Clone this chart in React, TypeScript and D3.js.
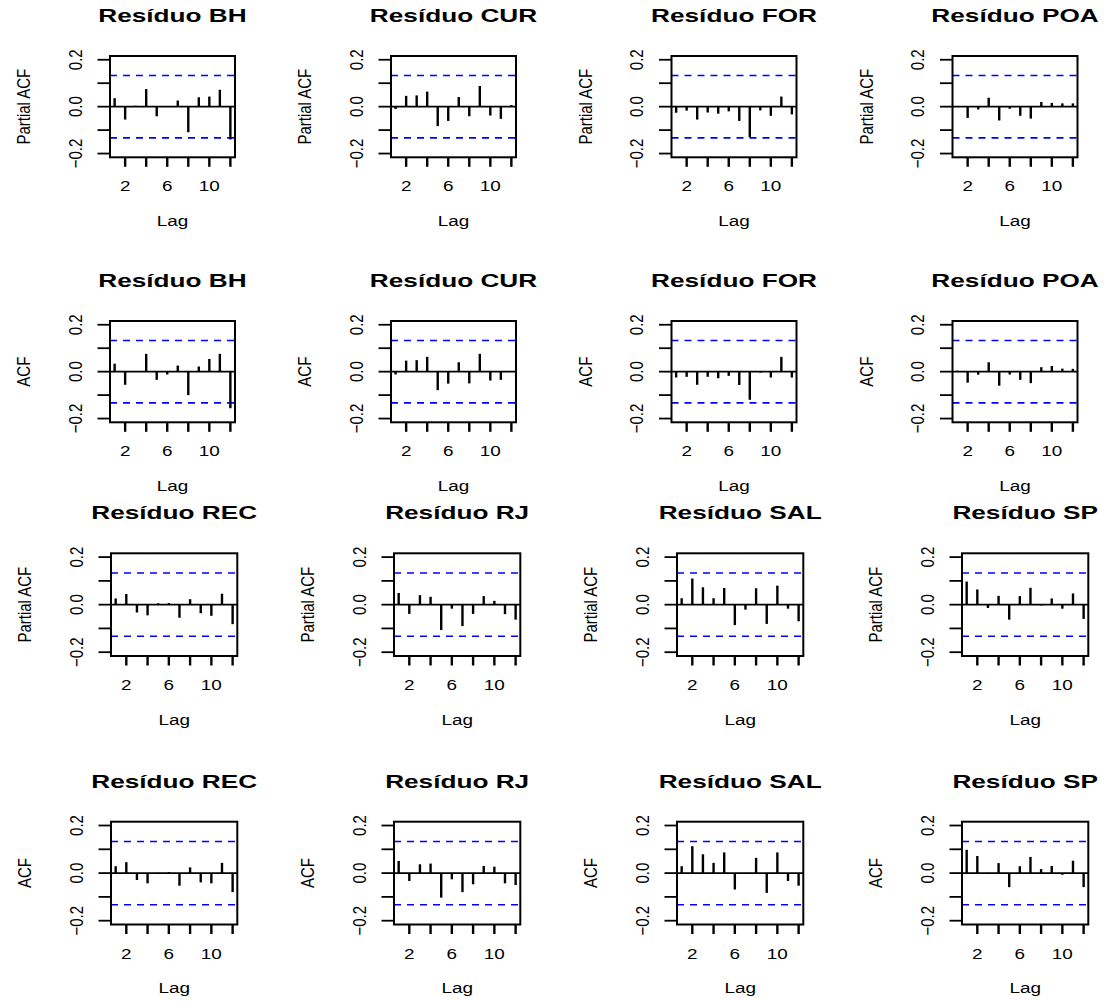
import React from "react";
import * as d3 from "d3";

// lags shown on every correlogram
const lags = [1, 2, 3, 4, 5, 6, 7, 8, 9, 10, 11, 12];

// partial autocorrelations
const pacfBH = [0.036, -0.055, 0.004, 0.075, -0.041, 0.002, 0.026, -0.109, 0.04, 0.043, 0.072, -0.14];
const pacfCUR = [-0.01, 0.046, 0.048, 0.064, -0.083, -0.061, 0.041, -0.041, 0.088, -0.038, -0.052, 0.007];
const pacfFOR = [-0.026, -0.017, -0.055, -0.025, -0.03, -0.02, -0.061, -0.13, -0.016, -0.039, 0.043, -0.033];
const pacfPOA = [0.002, -0.048, -0.012, 0.038, -0.059, -0.009, -0.039, -0.051, 0.02, 0.016, 0.014, 0.014];
const pacfREC = [0.026, 0.045, -0.033, -0.045, 0.006, 0.007, -0.055, 0.023, -0.036, -0.047, 0.046, -0.082];
const pacfRJ = [0.049, -0.039, 0.04, 0.033, -0.107, -0.017, -0.09, -0.039, 0.036, 0.016, -0.04, -0.063];
const pacfSAL = [0.027, 0.11, 0.073, 0.027, 0.07, -0.086, -0.021, 0.069, -0.081, 0.08, -0.017, -0.07];
const pacfSP = [0.097, 0.064, -0.014, 0.037, -0.063, 0.036, 0.071, -0.003, 0.026, -0.017, 0.047, -0.06];

// autocorrelations
const acfBH = [0.034, -0.056, 0.002, 0.076, -0.035, -0.012, 0.026, -0.1, 0.022, 0.054, 0.076, -0.156];
const acfCUR = [-0.012, 0.047, 0.049, 0.063, -0.079, -0.051, 0.04, -0.05, 0.076, -0.038, -0.035, 0.003];
const acfFOR = [-0.025, -0.022, -0.056, -0.022, -0.028, -0.018, -0.057, -0.12, -0.004, -0.025, 0.063, -0.025];
const acfPOA = [0.004, -0.047, -0.013, 0.04, -0.06, -0.012, -0.035, -0.049, 0.019, 0.024, 0.013, 0.012];
const acfREC = [0.029, 0.046, -0.029, -0.043, 0.001, 0.004, -0.053, 0.024, -0.039, -0.043, 0.043, -0.08];
const acfRJ = [0.051, -0.033, 0.037, 0.04, -0.103, -0.026, -0.08, -0.047, 0.03, 0.027, -0.043, -0.05];
const acfSAL = [0.029, 0.113, 0.079, 0.043, 0.087, -0.069, -0.001, 0.064, -0.083, 0.087, -0.033, -0.053];
const acfSP = [0.098, 0.072, 0.001, 0.042, -0.059, 0.029, 0.068, 0.017, 0.03, -0.007, 0.052, -0.059];

const ciLimit = 0.133;
const yTicks = [-0.2, -0.1, 0, 0.1, 0.2];
const yTickLabels = [-0.2, 0, 0.2];
const xTicks = [2, 4, 6, 8, 10, 12];
const xTickLabels = [2, 6, 10];

const topCities = ["BH", "CUR", "FOR", "POA"];
const bottomCities = ["REC", "RJ", "SAL", "SP"];

const rows = [
  { ylab: "Partial ACF", cities: topCities, series: [pacfBH, pacfCUR, pacfFOR, pacfPOA] },
  { ylab: "ACF", cities: topCities, series: [acfBH, acfCUR, acfFOR, acfPOA] },
  { ylab: "Partial ACF", cities: bottomCities, series: [pacfREC, pacfRJ, pacfSAL, pacfSP] },
  { ylab: "ACF", cities: bottomCities, series: [acfREC, acfRJ, acfSAL, acfSP] },
];

// the picture is two stacked 2x4 plots, each a little differently placed
const halves = [
  { lefts: [110, 391, 671.5, 952.5], width: 125 },
  { lefts: [111, 394, 677, 962], width: 126.3 },
];
const rowBoxes = [
  [56, 157.3],
  [321, 422.3],
  [553.3, 656],
  [821.7, 924.5],
];

const FONT = "'Liberation Sans', Arial, Helvetica, sans-serif";
const SX = 1.26; // the original was stretched horizontally
const TITLE_SX = 1.455;
const fmt = d3.format(".1f");

const Panel = ({ title, ylab, values, left, width, top, bottom }) => {
  const x = d3.scaleLinear().domain([0.56, 12.44]).range([left, left + width]);
  const y = d3.scaleLinear().domain([-0.216, 0.216]).range([bottom, top]);
  const cx = left + width / 2;
  const cy = (top + bottom) / 2;

  return (
    <g>
      <text
        transform={`translate(${cx},${top - 34}) scale(${TITLE_SX},1)`}
        textAnchor="middle"
        fontFamily={FONT}
        fontWeight="bold"
        fontSize={18}
      >
        {title}
      </text>

      {/* confidence bounds and zero line */}
      {[ciLimit, -ciLimit].map((c) => (
        <line
          key={c}
          x1={left}
          x2={left + width}
          y1={y(c)}
          y2={y(c)}
          stroke="#0000FF"
          strokeWidth={1.6}
          strokeDasharray="7,6"
        />
      ))}
      <line x1={left} x2={left + width} y1={y(0)} y2={y(0)} stroke="#000" strokeWidth={1.8} />

      {/* spikes */}
      {lags.map((lag, i) => (
        <line
          key={lag}
          x1={x(lag)}
          x2={x(lag)}
          y1={y(0)}
          y2={y(values[i])}
          stroke="#000"
          strokeWidth={2.4}
        />
      ))}

      <rect x={left} y={top} width={width} height={bottom - top} fill="none" stroke="#000" strokeWidth={2} />

      {/* y axis */}
      {yTicks.map((t) => (
        <line key={t} x1={left - 12.5} x2={left} y1={y(t)} y2={y(t)} stroke="#000" strokeWidth={1.8} />
      ))}
      {yTickLabels.map((t) => (
        <text
          key={t}
          transform={`translate(${left - 28.2},${y(t)}) scale(${SX},1) rotate(-90)`}
          textAnchor="middle"
          fontFamily={FONT}
          fontSize={15}
        >
          {fmt(t)}
        </text>
      ))}
      <text
        transform={`translate(${left - 80},${cy}) scale(${SX},1) rotate(-90)`}
        textAnchor="middle"
        fontFamily={FONT}
        fontSize={15}
      >
        {ylab}
      </text>

      {/* x axis */}
      {xTicks.map((t) => (
        <line key={t} x1={x(t)} x2={x(t)} y1={bottom} y2={bottom + 9.5} stroke="#000" strokeWidth={2.4} />
      ))}
      {xTickLabels.map((t) => (
        <text
          key={t}
          transform={`translate(${x(t)},${bottom + 34}) scale(${SX},1)`}
          textAnchor="middle"
          fontFamily={FONT}
          fontSize={15}
        >
          {t}
        </text>
      ))}
      <text
        transform={`translate(${cx},${bottom + 68.5}) scale(${SX},1)`}
        textAnchor="middle"
        fontFamily={FONT}
        fontSize={15}
      >
        Lag
      </text>
    </g>
  );
};

const App = () => {
  const panels = rows.flatMap((row, r) =>
    row.cities.map((city, c) => {
      const half = halves[r < 2 ? 0 : 1];
      return (
        <Panel
          key={`${r}-${c}`}
          title={`Resíduo ${city}`}
          ylab={row.ylab}
          values={row.series[c]}
          left={half.lefts[c]}
          width={half.width}
          top={rowBoxes[r][0]}
          bottom={rowBoxes[r][1]}
        />
      );
    })
  );

  return (
    <svg
      width={1104}
      height={1001}
      style={{ position: "absolute", left: 0, top: 0, background: "#fff" }}
    >
      <rect width={1104} height={1001} fill="#fff" />
      {panels}
    </svg>
  );
};

export default App;
